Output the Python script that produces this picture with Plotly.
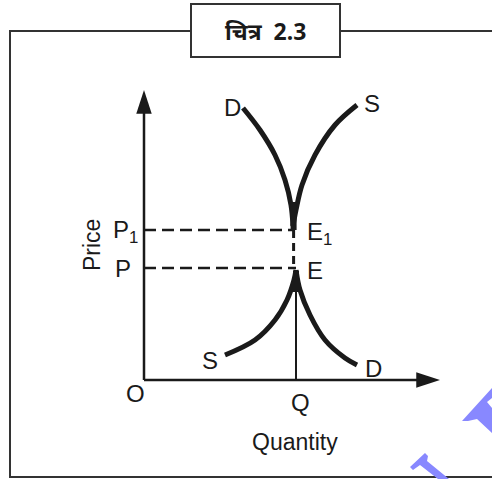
import plotly.graph_objects as go

# ---- data (quantity, price units; 1 unit = 20 px) ----
D1_q = [4.95, 5.8, 6.55, 7.05, 7.35, 7.45]
D1_p = [13.6, 12.5, 11.25, 10.0, 8.75, 7.7]
S1_q = [10.65, 9.55, 8.55, 7.9, 7.6, 7.45]
S1_p = [13.75, 12.75, 11.25, 9.75, 8.5, 7.7]
S0_q = [4.05, 5.55, 6.55, 7.15, 7.5, 7.6]
S0_p = [1.25, 2.0, 3.0, 4.0, 5.0, 5.5]
D0_q = [7.6, 7.8, 8.3, 9.05, 10.05, 10.65]
D0_p = [5.5, 4.5, 3.25, 2.0, 1.1, 0.75]
Q_val = 7.6
P_val = 5.6
P1_val = 7.5
E1_q = 7.48
X_axis_end = 14.8
Y_axis_end = 14.5

fig = go.Figure()
BLACK = "#1a1a1a"

# axes with arrow heads
fig.add_trace(go.Scatter(x=[0, 0], y=[0, Y_axis_end - 0.8], mode="lines",
                         line=dict(color=BLACK, width=2.5), hoverinfo="skip", showlegend=False))
fig.add_trace(go.Scatter(x=[0, X_axis_end - 0.8], y=[0, 0], mode="lines",
                         line=dict(color=BLACK, width=2.5), hoverinfo="skip", showlegend=False))
fig.add_trace(go.Scatter(x=[0, X_axis_end], y=[Y_axis_end, 0], mode="markers",
                         marker=dict(symbol="arrow", size=25, color=BLACK, angle=[0, 90],
                                     line=dict(width=0)),
                         hoverinfo="skip", showlegend=False))

for q, p in [(D1_q, D1_p), (S1_q, S1_p), (S0_q, S0_p), (D0_q, D0_p)]:
    fig.add_trace(go.Scatter(x=q, y=p, mode="lines",
                             line=dict(color=BLACK, width=5, shape="spline"),
                             hoverinfo="skip", showlegend=False))
# thick stems at the cusps
fig.add_trace(go.Scatter(x=[E1_q, E1_q], y=[7.5, 8.9], mode="lines",
                         line=dict(color=BLACK, width=6), hoverinfo="skip", showlegend=False))
fig.add_trace(go.Scatter(x=[Q_val, Q_val], y=[4.4, 5.45], mode="lines",
                         line=dict(color=BLACK, width=6), hoverinfo="skip", showlegend=False))
# dashed guides
dash = "12px,6px"
fig.add_trace(go.Scatter(x=[0, E1_q], y=[P1_val, P1_val], mode="lines",
                         line=dict(color=BLACK, width=2.5, dash=dash), hoverinfo="skip", showlegend=False))
fig.add_trace(go.Scatter(x=[0, Q_val], y=[P_val, P_val], mode="lines",
                         line=dict(color=BLACK, width=2.5, dash=dash), hoverinfo="skip", showlegend=False))
fig.add_trace(go.Scatter(x=[E1_q, E1_q], y=[P1_val, P_val], mode="lines",
                         line=dict(color=BLACK, width=3, dash="8px,5px"), hoverinfo="skip", showlegend=False))
# Q vertical
fig.add_trace(go.Scatter(x=[Q_val, Q_val], y=[0, 5.5], mode="lines",
                         line=dict(color=BLACK, width=2), hoverinfo="skip", showlegend=False))

# decorations in pixel terms converted to data units
def px(xp, yp):
    return (xp - 144) / 20, (380 - yp) / 20

def path(pts, close=True):
    s = []
    for i, (a, b) in enumerate(pts):
        x, y = px(a, b)
        s.append(("M" if i == 0 else "L") + f" {x:.3f} {y:.3f}")
    return " ".join(s) + (" Z" if close else "")

frame = [(492, 31), (10, 31), (10, 477), (492, 477)]
wm1 = [(462, 421), (492, 388), (492, 398), (487, 402), (492, 408), (492, 433), (477, 419), (468, 421)]
wm2 = [(410, 467), (425, 453), (428, 456), (427, 461), (449, 479), (438, 479), (420, 465), (413, 470)]

shapes = [
    dict(type="path", xref="x", yref="y", path=path(frame, close=False),
         line=dict(color="#333333", width=2), layer="below"),
    dict(type="rect", xref="x", yref="y", x0=2.35, x1=9.8, y0=16.15, y1=18.8,
         line=dict(color="#333333", width=2), fillcolor="white"),
    dict(type="path", xref="x", yref="y", path=path(wm1), fillcolor="#8888ff", line=dict(width=0)),
    dict(type="path", xref="x", yref="y", path=path(wm2), fillcolor="#8888ff", line=dict(width=0)),
]

F = "Liberation Sans, Arial, sans-serif"
def lab(x, y, t, size=24, **kw):
    return dict(x=x, y=y, xref="x", yref="y", text=t, showarrow=False,
                font=dict(family=F, size=size, color=BLACK), **kw)

annotations = [
    lab(4.4, 13.65, "D"), lab(11.4, 13.85, "S"),
    lab(3.3, 1.0, "S"), lab(11.45, 0.6, "D"),
    lab(-0.95, 7.45, "P<sub>1</sub>"), lab(-1.05, 5.6, "P"),
    lab(8.75, 7.35, "E<sub>1</sub>"), lab(8.55, 5.5, "E"),
    lab(-2.6, 6.75, "Price", size=23, textangle=-90),
    lab(-0.45, -0.65, "O"), lab(7.8, -1.1, "Q"),
    lab(7.55, -3.1, "Quantity", size=23),
    dict(x=6.07, y=17.45, xref="x", yref="y", showarrow=False,
         text="<b>चित्र  2.3</b>",
         font=dict(family="Noto Sans, Noto Sans Devanagari, Lohit Devanagari, sans-serif", size=23, color=BLACK)),
]

fig.update_layout(
    width=492, height=479, margin=dict(l=0, r=0, t=0, b=0),
    paper_bgcolor="white", plot_bgcolor="white",
    xaxis=dict(range=[-7.2, 17.4], visible=False, fixedrange=True),
    yaxis=dict(range=[-4.95, 19.0], visible=False, fixedrange=True),
    shapes=shapes, annotations=annotations,
)
fig.write_html("out.html", config={"displayModeBar": False},
               post_script="document.body.style.margin='0';document.body.style.overflow='hidden';")
